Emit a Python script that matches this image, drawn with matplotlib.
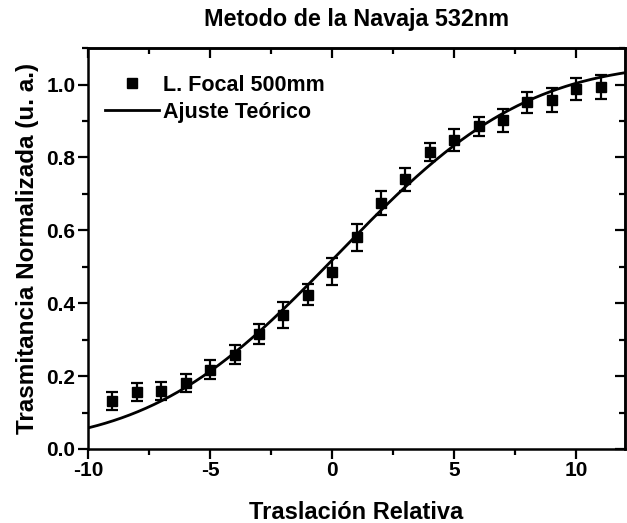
import math

import matplotlib
matplotlib.use("Agg")
import matplotlib.pyplot as plt
import numpy as np
from matplotlib.lines import Line2D
from matplotlib.ticker import MultipleLocator

# Knife-edge scan at 532 nm, focal length 500 mm
traslacion = [-9, -8, -7, -6, -5, -4, -3, -2, -1, 0, 1, 2, 3, 4, 5, 6, 7, 8, 9, 10, 11]
trasmitancia = [0.132, 0.157, 0.159, 0.181, 0.218, 0.259, 0.316, 0.367, 0.423, 0.487,
                0.581, 0.674, 0.740, 0.814, 0.847, 0.885, 0.902, 0.951, 0.958, 0.987, 0.993]
error = [0.025, 0.025, 0.025, 0.025, 0.025, 0.027, 0.028, 0.035, 0.029, 0.037,
         0.037, 0.033, 0.032, 0.025, 0.030, 0.025, 0.032, 0.028, 0.032, 0.030, 0.032]

# Fit parameters: T(x) = a + b * erf((x - x0) / w)
fit_a = 0.535
fit_b = 0.525
fit_x0 = 0.24
fit_w = 8.57

plt.rcParams["font.family"] = ["Liberation Sans", "DejaVu Sans"]
plt.rcParams["font.weight"] = "bold"
plt.rcParams["axes.unicode_minus"] = False

fig = plt.figure(figsize=(6.27, 5.23), dpi=100)
ax = fig.add_axes([0.1404, 0.1415, 0.8566, 0.7665])

x_fit = np.linspace(-10, 12, 400)
y_fit = fit_a + fit_b * np.array([math.erf((v - fit_x0) / fit_w) for v in x_fit])

ax.errorbar(traslacion, trasmitancia, yerr=error, fmt="s", color="black",
            markersize=6.5, elinewidth=1.6, capsize=4, capthick=1.6, zorder=3)
ax.plot(x_fit, y_fit, color="black", linewidth=2.0)

ax.set_xlim(-10, 12)
ax.set_ylim(0, 1.1)
ax.xaxis.set_major_locator(MultipleLocator(5))
ax.xaxis.set_minor_locator(MultipleLocator(2.5))
ax.yaxis.set_major_locator(MultipleLocator(0.2))
ax.yaxis.set_minor_locator(MultipleLocator(0.1))
ax.yaxis.set_major_formatter(plt.FormatStrFormatter("%.1f"))

for side in ax.spines.values():
    side.set_linewidth(1.8)

ax.tick_params(which="both", direction="out", width=1.6, labelsize=15, pad=2)
ax.tick_params(which="major", length=7)
ax.tick_params(which="minor", length=4.5)

# mirrored ticks on top and right, pointing inward
top = ax.secondary_xaxis("top")
top.xaxis.set_major_locator(MultipleLocator(5))
top.xaxis.set_minor_locator(MultipleLocator(2.5))
top.tick_params(which="both", direction="in", width=1.6, labeltop=False)
top.tick_params(which="major", length=7)
top.tick_params(which="minor", length=4.5)
top.spines["top"].set_linewidth(1.8)
right = ax.secondary_yaxis("right")
right.yaxis.set_major_locator(MultipleLocator(0.2))
right.yaxis.set_minor_locator(MultipleLocator(0.1))
right.tick_params(which="both", direction="in", width=1.6, labelright=False)
right.tick_params(which="major", length=7)
right.tick_params(which="minor", length=4.5)
right.spines["right"].set_linewidth(1.8)

ax.set_xlabel("Traslación Relativa", fontsize=17, fontweight="bold", labelpad=15)
ax.set_ylabel("Trasmitancia Normalizada (u. a.)", fontsize=17.5, fontweight="bold", labelpad=5)
ax.set_title("Metodo de la Navaja 532nm", fontsize=16.8, fontweight="bold", pad=16)

handles = [
    Line2D([], [], marker="s", linestyle="none", color="black", markersize=6.5),
    Line2D([], [], color="black", linewidth=2.0),
]
labels = ["L. Focal 500mm", "Ajuste Teórico"]
ax.legend(handles, labels, loc="upper left", bbox_to_anchor=(0, 0.977),
          frameon=False, fontsize=15.5, handlelength=2.5, handletextpad=0.2,
          borderaxespad=0.3, borderpad=0.5, labelspacing=0.3)

fig.savefig("out.png", dpi=100)
